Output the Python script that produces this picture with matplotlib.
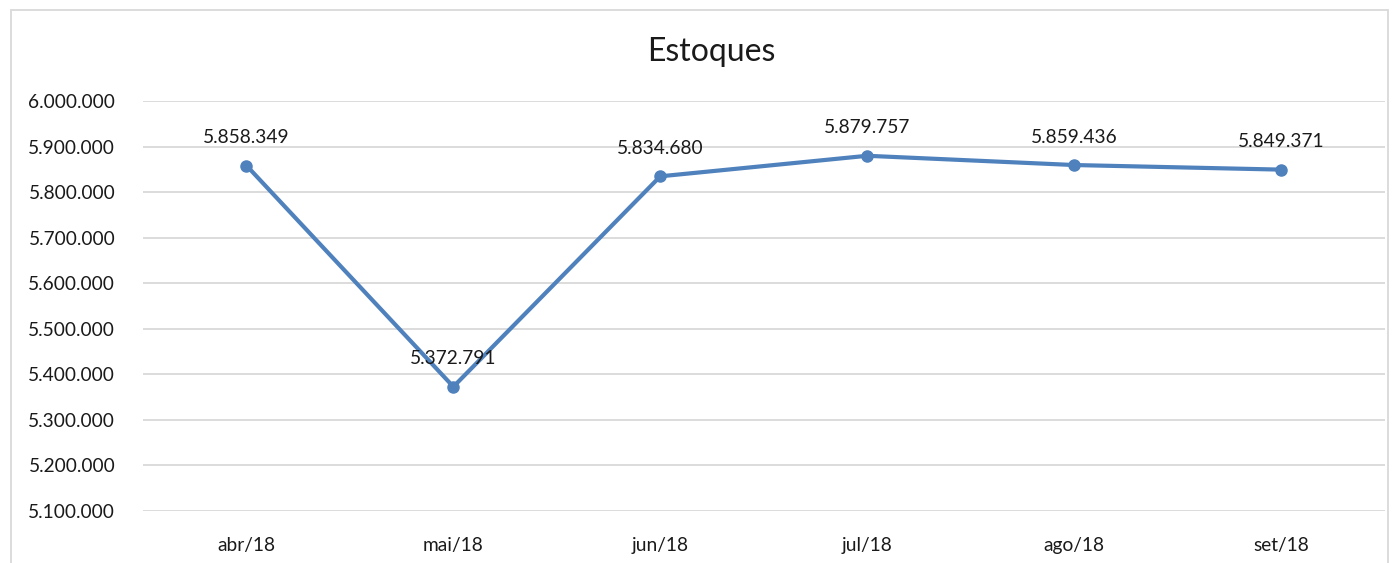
import matplotlib
matplotlib.use("Agg")
import matplotlib.pyplot as plt
from matplotlib.patches import Rectangle
from matplotlib.ticker import FuncFormatter

months = ["abr/18", "mai/18", "jun/18", "jul/18", "ago/18", "set/18"]
estoques = [5858349, 5372791, 5834680, 5879757, 5859436, 5849371]
y_ticks = [5100000, 5200000, 5300000, 5400000, 5500000, 5600000,
           5700000, 5800000, 5900000, 6000000]

plt.rcParams["font.family"] = ["Lato", "DejaVu Sans"]

def br(v):
    return "{:,.0f}".format(v).replace(",", ".")

fig = plt.figure(figsize=(13.93, 5.63), dpi=100)
ax = fig.add_axes([143 / 1393, 52 / 563, (1384.5 - 143) / 1393, 410 / 563])

# outer chart frame (bottom edge is cut off in the original)
fig.patches.append(Rectangle((11 / 1393, -0.05), (1388 - 11) / 1393, 1.05 - 10 / 563,
                             transform=fig.transFigure, fill=False,
                             edgecolor="#D9D9D9", lw=1.3))

x = list(range(len(months)))
ax.plot(x, estoques, color="#4F81BD", lw=3, marker="o", markersize=8,
        solid_capstyle="round")
for xi, v in zip(x, estoques):
    ax.annotate(br(v), (xi, v), xytext=(0, 20), textcoords="offset points",
                ha="center", va="center", fontsize=13.8, color="#1a1a1a")

ax.set_xlim(-0.5, len(months) - 0.5)
ax.set_ylim(5100000, 6000000)
ax.set_yticks(y_ticks)
ax.yaxis.set_major_formatter(FuncFormatter(lambda v, p: br(v)))
ax.set_xticks(x)
ax.set_xticklabels(months)
ax.tick_params(length=0, labelsize=13.8, colors="#1a1a1a")
ax.tick_params(axis="y", pad=20)
ax.tick_params(axis="x", pad=19)
ax.grid(axis="y", color="#D9D9D9", lw=1.3)
ax.set_axisbelow(True)
for s in ax.spines.values():
    s.set_visible(False)

fig.text(711 / 1393, 1 - 52 / 563, "Estoques", ha="center", va="center",
         fontsize=23, color="#1a1a1a")

fig.savefig("out.png", dpi=100)
